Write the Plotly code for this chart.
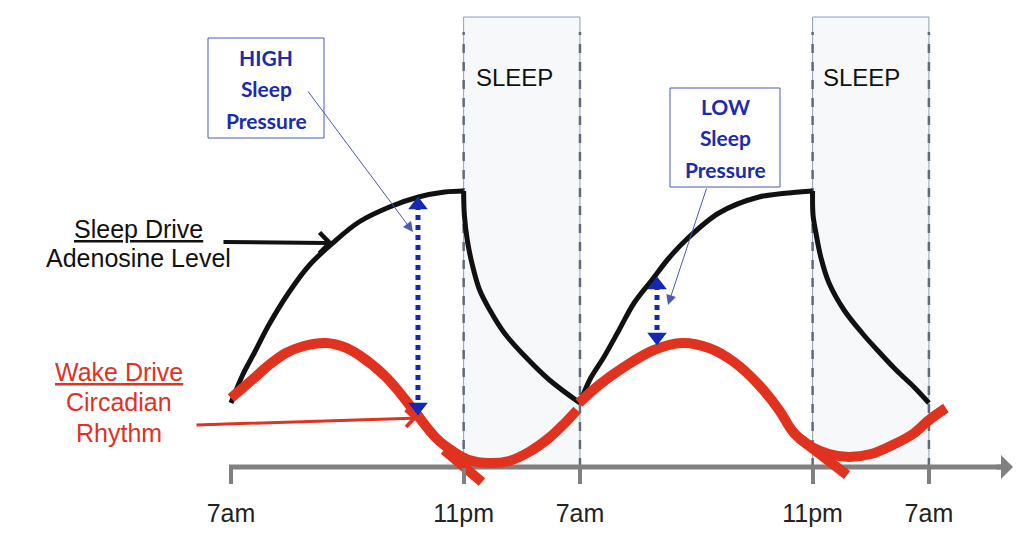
import plotly.graph_objects as go

# ---------------- data (hours after 7am, level in arbitrary units) ----------------
tick_hours = [0, 16, 24, 40, 48]
tick_labels = ["7am", "11pm", "7am", "11pm", "7am"]

sleep_start = [16, 40]
sleep_end = [24, 48]
sleep_labels = ["SLEEP", "SLEEP"]

# Sleep drive (adenosine) - black
drive_rise1_x = [0, 0.8, 1.6, 2.6, 4.0, 5.4, 7.0, 8.8, 10.9, 12.9, 14.7, 16.0]
drive_rise1_y = [64, 92, 114, 142, 175, 202, 224, 245, 260, 270, 275, 276]
drive_fall1_x = [16.0, 16.05, 16.25, 16.6, 17.1, 17.8, 18.8, 20.2, 21.9, 24.0]
drive_fall1_y = [276, 252, 227, 202, 177, 157, 134, 111, 87, 64]
drive_rise2_x = [24.0, 24.7, 25.65, 26.69, 27.72, 28.95, 30.12, 31.29, 33.56, 36.31, 39.06, 40.0]
drive_rise2_y = [64, 88, 110, 137, 164, 187, 209, 227, 254, 270, 275, 276]
drive_fall2_x = [40.0, 40.03, 40.23, 40.58, 41.13, 42.16, 43.40, 44.57, 45.74, 46.97, 48.0]
drive_fall2_y = [276, 252, 234, 209, 184, 157, 134, 115, 97, 80, 64]

# Wake drive (circadian) - red
wake1_x = [0, 1.44, 2.61, 3.78, 5.02, 6.53, 7.77, 8.80, 10.66, 12.45, 14.10, 15.34,
           16.37, 17.74, 19.12, 20.49, 21.87, 22.90, 23.80]
wake1_y = [69, 87, 102, 114, 121, 124, 120, 112, 90, 59, 29, 15, 7, 4, 6, 15, 29, 43, 57]
wake2_x = [23.93, 25.31, 27.03, 29.09, 31.02, 32.87, 34.59, 36.31, 37.69, 38.72, 39.96,
           41.13, 42.50, 44.0, 45.5, 46.9, 48.01, 49.17]
wake2_y = [64, 82, 100, 117, 124, 119, 105, 82, 57, 34, 20, 13, 10, 13, 22, 33, 47, 59]
wake_tail1_x = [14.65, 17.26]
wake_tail1_y = [17, -15]
wake_tail2_x = [39.06, 42.37]
wake_tail2_y = [29, -8]

# Sleep pressure gaps (dotted double arrows)
pressure_x = [12.86, 29.30]
pressure_top = [262, 182]
pressure_bottom = [60, 130]
pressure_labels = ["HIGH", "LOW"]

# ---------------- helpers for layout placement ----------------
PX_PER_HR = 14.54
X0 = 231


def hx(px):
    return (px - X0) / PX_PER_HR


def ly(py):
    return 467 - py


BLACK = "#111111"
RED = "#e0321f"
BLUE = "#1428b4"
GRAY = "#808080"
SANS = "Liberation Sans, Arial, sans-serif"

fig = go.Figure()

for xs, ys in [(drive_rise1_x, drive_rise1_y), (drive_fall1_x, drive_fall1_y),
               (drive_rise2_x, drive_rise2_y), (drive_fall2_x, drive_fall2_y)]:
    fig.add_trace(go.Scatter(x=xs, y=ys, mode="lines", line=dict(color=BLACK, width=5, shape="spline"),
                             hoverinfo="skip"))

for xs, ys in [(wake1_x, wake1_y), (wake2_x, wake2_y), (wake_tail1_x, wake_tail1_y),
               (wake_tail2_x, wake_tail2_y)]:
    fig.add_trace(go.Scatter(x=xs, y=ys, mode="lines", line=dict(color=RED, width=10, shape="spline"),
                             hoverinfo="skip"))

for px_, t, b in zip(pressure_x, pressure_top, pressure_bottom):
    fig.add_trace(go.Scatter(x=[px_, px_], y=[t, b], mode="lines+markers",
                             line=dict(color=BLUE, width=5, dash="dot"),
                             marker=dict(symbol=["triangle-up", "triangle-down"], size=17, color=BLUE),
                             hoverinfo="skip"))

shapes = []
for s, e in zip(sleep_start, sleep_end):
    shapes.append(dict(type="rect", xref="x", yref="y", x0=s, x1=e, y0=0, y1=ly(17),
                       fillcolor="#f7f8fa", line=dict(color="#8ea0b8", width=1), layer="below"))
    for xv in (s, e):
        shapes.append(dict(type="line", xref="x", yref="y", x0=xv, x1=xv, y0=0, y1=ly(32),
                           line=dict(color="#5f6b7a", width=2.5, dash="dash"), layer="below"))
# axis line
shapes.append(dict(type="line", xref="x", yref="y", x0=hx(229), x1=hx(1002), y0=0, y1=0,
                   line=dict(color=GRAY, width=5), layer="below"))
# pressure boxes
shapes.append(dict(type="rect", xref="x", yref="y", x0=hx(208), x1=hx(324), y0=ly(38), y1=ly(138),
                   line=dict(color="#4a5bb5", width=1), fillcolor="white"))
shapes.append(dict(type="rect", xref="x", yref="y", x0=hx(670), x1=hx(780), y0=ly(88), y1=ly(187),
                   line=dict(color="#4a5bb5", width=1), fillcolor="white"))

ann = []
# axis arrow head
ann.append(dict(x=hx(1013), y=0, ax=hx(995), ay=0, axref="x", ayref="y", xref="x", yref="y",
                text="", showarrow=True, arrowhead=1, arrowsize=0.8, arrowwidth=5, arrowcolor=GRAY))
# SLEEP labels
for s, lab, cx in zip(sleep_start, sleep_labels, [514, 861]):
    ann.append(dict(x=hx(cx), y=ly(77), xref="x", yref="y", text=lab, showarrow=False,
                    font=dict(family=SANS, size=24, color="#111")))
# left labels
ann.append(dict(x=hx(138), y=ly(229), xref="x", yref="y", text="<u>Sleep Drive</u>", showarrow=False,
                font=dict(family=SANS, size=25, color="#111")))
ann.append(dict(x=hx(138), y=ly(258), xref="x", yref="y", text="Adenosine Level", showarrow=False,
                font=dict(family=SANS, size=25, color="#111")))
ann.append(dict(x=hx(119), y=ly(372), xref="x", yref="y", text="<u>Wake Drive</u>", showarrow=False,
                font=dict(family=SANS, size=25, color=RED)))
ann.append(dict(x=hx(119), y=ly(402), xref="x", yref="y", text="Circadian", showarrow=False,
                font=dict(family=SANS, size=25, color=RED)))
ann.append(dict(x=hx(119), y=ly(433), xref="x", yref="y", text="Rhythm", showarrow=False,
                font=dict(family=SANS, size=25, color=RED)))
# pointer arrows
ann.append(dict(x=hx(333), y=ly(243), ax=hx(222), ay=ly(242), axref="x", ayref="y", xref="x", yref="y",
                text="", showarrow=True, arrowhead=4, arrowsize=1.0, arrowwidth=4, arrowcolor=BLACK))
ann.append(dict(x=hx(417), y=ly(418), ax=hx(195), ay=ly(425), axref="x", ayref="y", xref="x", yref="y",
                text="", showarrow=True, arrowhead=4, arrowsize=1.1, arrowwidth=3, arrowcolor=RED))
ann.append(dict(x=hx(413), y=ly(232), ax=hx(307), ay=ly(90), axref="x", ayref="y", xref="x", yref="y",
                text="", showarrow=True, arrowhead=2, arrowsize=2, arrowwidth=1, arrowcolor="#4a5bb5"))
ann.append(dict(x=hx(668), y=ly(305), ax=hx(707), ay=ly(187), axref="x", ayref="y", xref="x", yref="y",
                text="", showarrow=True, arrowhead=2, arrowsize=2, arrowwidth=1, arrowcolor="#4a5bb5"))
# box texts
for cx, top, lab in [(266, 57, pressure_labels[0]), (725, 106, pressure_labels[1])]:
    for i, word in enumerate([lab, "Sleep", "Pressure"]):
        ann.append(dict(x=hx(cx), y=ly(top + 31.5 * i), xref="x", yref="y", text=f"<b>{word}</b>",
                        showarrow=False, font=dict(family="Lato, Open Sans, sans-serif", size=21, color="#1b2cab")))

fig.update_layout(
    width=1024, height=548, margin=dict(l=0, r=0, t=0, b=0),
    plot_bgcolor="white", paper_bgcolor="white", showlegend=False,
    shapes=shapes, annotations=ann,
    xaxis=dict(range=[hx(0), hx(1024)], anchor="free", position=(548 - 467) / 548,
               tickmode="array", tickvals=tick_hours, ticktext=tick_labels,
               ticks="outside", ticklen=16, tickwidth=4, tickcolor=GRAY,
               showgrid=False, zeroline=False, showline=False, ticklabelstandoff=8,
               tickfont=dict(family="Liberation Sans Narrow, Arial Narrow, Liberation Sans, sans-serif",
                             size=25, color="#222")),
    yaxis=dict(range=[-81, 467], visible=False),
)

fig.write_html("out.html")
